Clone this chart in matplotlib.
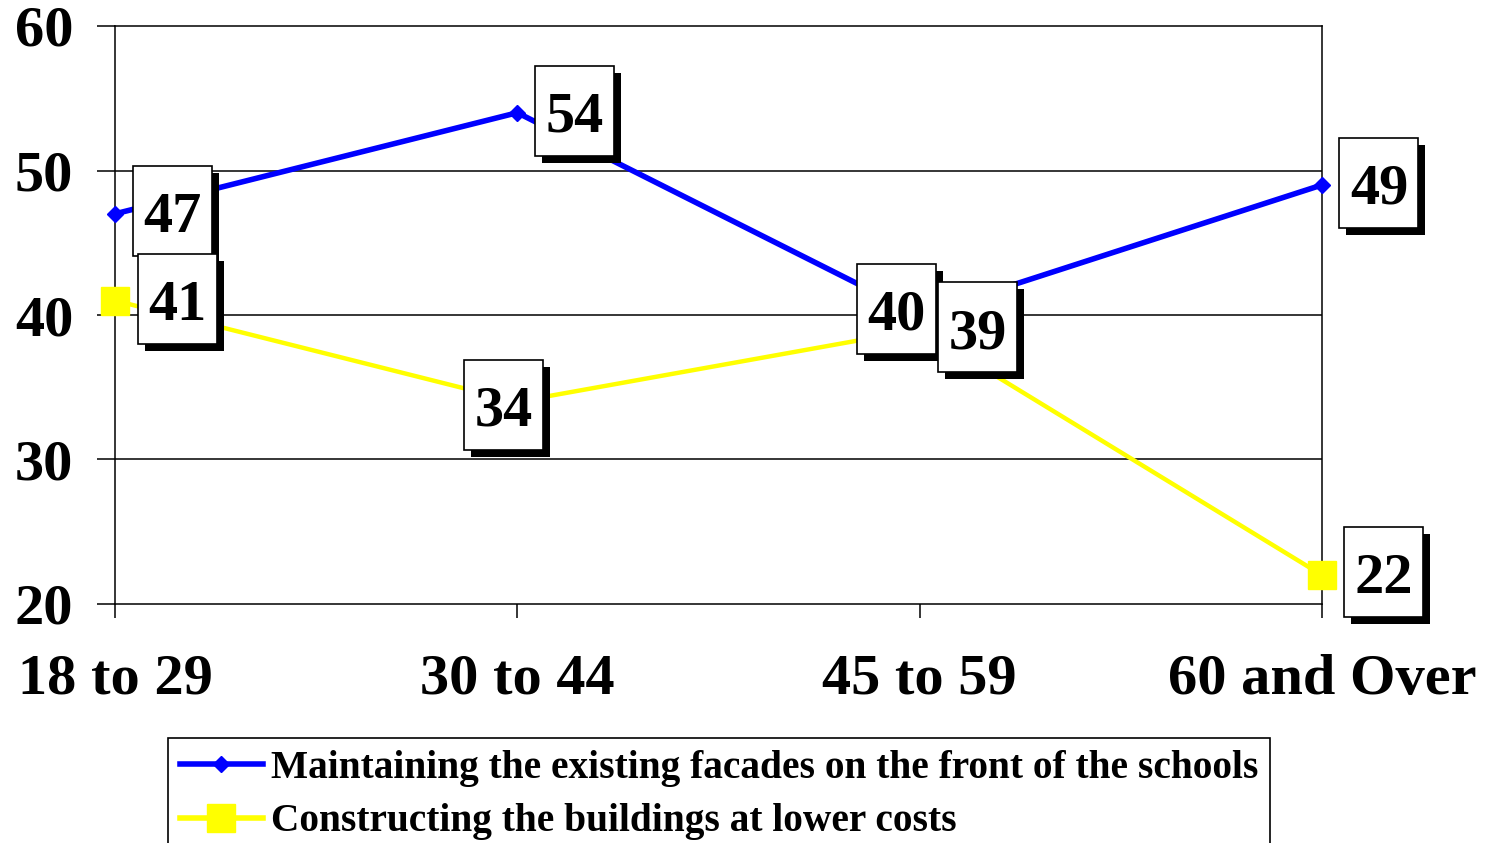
import matplotlib
matplotlib.use("Agg")
import matplotlib.pyplot as plt
import matplotlib.transforms as mtransforms
from matplotlib.patches import Rectangle

categories = ["18 to 29", "30 to 44", "45 to 59", "60 and Over"]
facades = [47, 54, 40, 49]
lower_costs = [41, 34, 39, 22]
series_names = ["Maintaining the existing facades on the front of the schools",
                "Constructing the buildings at lower costs"]
yticks = [20, 30, 40, 50, 60]

# label box offsets (pixels) from each data point
off_facades = [(57, 3), (57, 2), (-23, 6), (57, 2)]
off_lower = [(62, 2), (-14, -3), (58, 2), (62, 3)]

FONT = "Liberation Serif"
W, H = 1493, 843
fig = plt.figure(figsize=(W / 100, H / 100), dpi=100)
ax = fig.add_axes([115 / W, 1 - 604 / H, (1322 - 115) / W, (604 - 26) / H])

x = list(range(len(categories)))
ax.plot(x, facades, color="#0000FF", lw=4.0, marker="D", ms=8, clip_on=False, zorder=3,
        label=series_names[0])
ax.plot(x, lower_costs, color="#FFFF00", lw=3.2, marker="s", ms=20, clip_on=False, zorder=3,
        label=series_names[1])

ax.set_xlim(0, len(categories) - 1)
ax.set_ylim(20, 60)
ax.set_yticks(yticks)
ax.set_yticklabels([str(t) for t in yticks], fontfamily=FONT, fontweight="bold", fontsize=42)
ax.set_xticks(x)
ax.set_xticklabels(categories, fontfamily=FONT, fontweight="bold", fontsize=42)
ax.tick_params(axis="y", length=13, width=1.1, pad=17, direction="out")
ax.tick_params(axis="x", length=10, width=1.1, pad=26, direction="out")
for s in ax.spines.values():
    s.set_color("black")
    s.set_linewidth(1.1)
for t in yticks[1:-1]:
    ax.axhline(t, color="black", lw=1.1, zorder=1)

fig.canvas.draw()
BW, BH = 79, 90
ident = mtransforms.IdentityTransform()
for vals, offs in ((facades, off_facades), (lower_costs, off_lower)):
    for xi, v, (dx, dy) in zip(x, vals, offs):
        px, py = ax.transData.transform((xi, v))
        cx, cy = px + dx, py + dy
        ax.add_patch(Rectangle((cx - BW / 2 + 7, cy - BH / 2 - 7), BW, BH, transform=ident,
                               facecolor="black", edgecolor="black", lw=0, zorder=5, clip_on=False))
        ax.add_patch(Rectangle((cx - BW / 2, cy - BH / 2), BW, BH, transform=ident,
                               facecolor="white", edgecolor="black", lw=1.2, zorder=6, clip_on=False))
        ax.annotate(str(v), xy=(xi, v), xytext=(dx, dy - 21), textcoords="offset pixels",
                    ha="center", va="baseline", fontfamily=FONT, fontweight="bold",
                    fontsize=42, zorder=7, annotation_clip=False)

leg = fig.legend(loc="upper left", bbox_to_anchor=(168 / W, 1 - 738 / H),
                 prop={"family": FONT, "weight": "bold", "size": 28.4},
                 frameon=True, fancybox=False, edgecolor="black", framealpha=1,
                 handlelength=2.1, handletextpad=0.2, borderpad=0.3, labelspacing=0.42,
                 borderaxespad=0)
leg.get_frame().set_linewidth(1.2)
for h in leg.legend_handles:
    h.set_linewidth(4)

fig.savefig("out.png", dpi=100)
